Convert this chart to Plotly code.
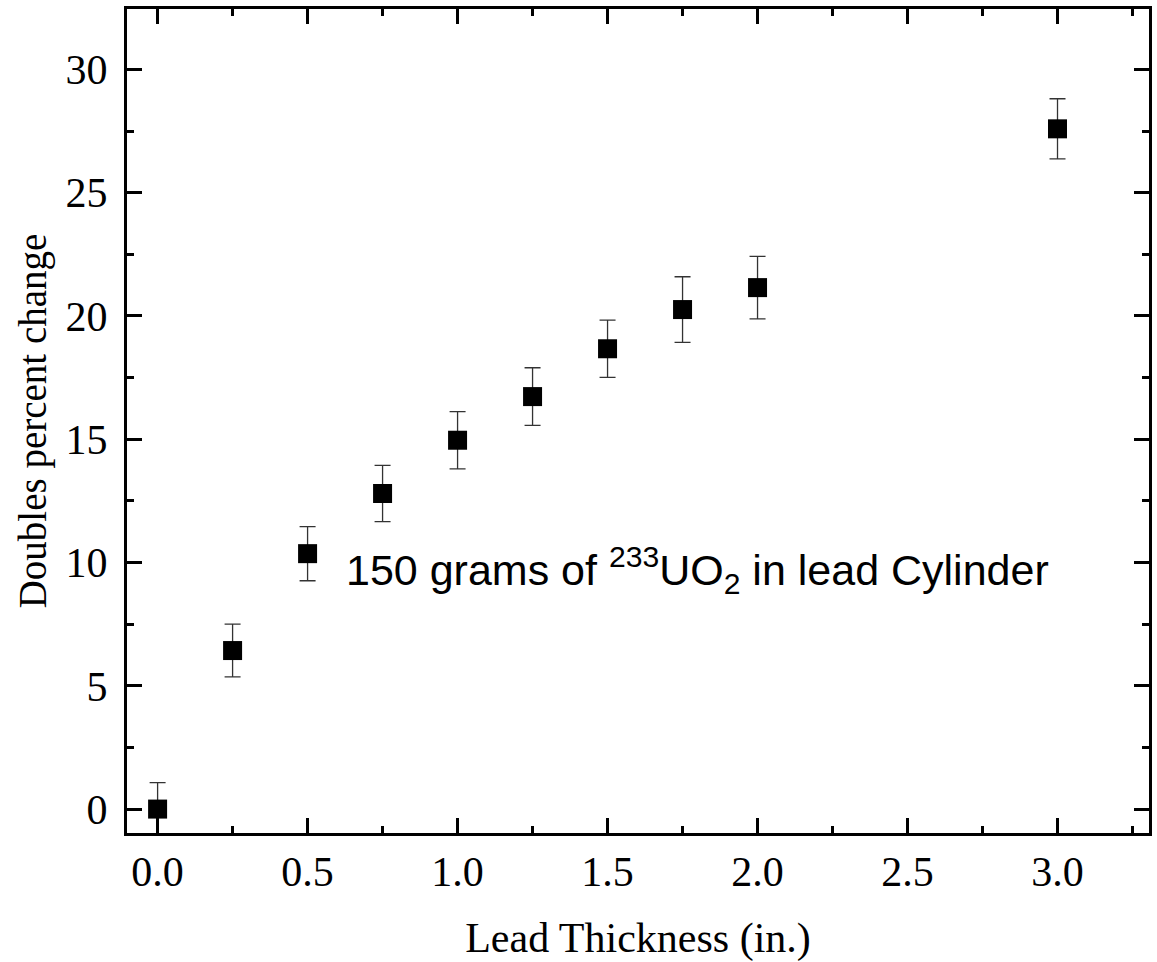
import plotly.graph_objects as go

thickness = [0.0, 0.25, 0.5, 0.75, 1.0, 1.25, 1.5, 1.75, 2.0, 3.0]
pct_change = [0.0, 6.43, 10.36, 12.80, 14.96, 16.73, 18.67, 20.26, 21.15, 27.59]
err = [1.07, 1.07, 1.10, 1.14, 1.16, 1.17, 1.16, 1.33, 1.27, 1.22]
x_ticks = [0.0, 0.5, 1.0, 1.5, 2.0, 2.5, 3.0]
x_ticklabels = ["0.0", "0.5", "1.0", "1.5", "2.0", "2.5", "3.0"]
y_ticks = [0, 5, 10, 15, 20, 25, 30]
y_ticklabels = ["0", "5", "10", "15", "20", "25", "30"]

fig = go.Figure()
fig.add_trace(go.Scatter(
    x=thickness, y=pct_change, mode="markers",
    marker=dict(symbol="square", size=19, color="black", line=dict(width=0)),
    error_y=dict(type="data", array=err, visible=True, color="#333333",
                 thickness=1.3, width=8),
    showlegend=False,
))

fig.add_annotation(
    x=0.62, y=9.7, xref="x", yref="y", xanchor="left", yanchor="middle",
    text="150 grams of <sup>233</sup>UO<sub>2</sub> in lead Cylinder",
    showarrow=False,
    font=dict(family="Liberation Sans, Arial", size=43, color="black"),
)

axis_common = dict(
    showline=True, linewidth=3, linecolor="black", mirror="allticks",
    ticks="inside", ticklen=15, tickwidth=3, tickcolor="black",
    showgrid=False, zeroline=False,
    tickfont=dict(family="Liberation Serif, Times New Roman", size=42, color="black"),
)

fig.update_xaxes(
    **axis_common,
    range=[-0.102, 3.305],
    tickvals=x_ticks, ticktext=x_ticklabels,
    minor=dict(dtick=0.25, ticks="inside", ticklen=7, tickwidth=3, tickcolor="black", showgrid=False),
    title_text="Lead Thickness (in.)",
    title_font=dict(family="Liberation Serif, Times New Roman", size=42, color="black"),
    title_standoff=36,
)
fig.update_yaxes(
    **axis_common,
    range=[-0.97, 32.45],
    tickvals=y_ticks, ticktext=y_ticklabels,
    ticklabelstandoff=8,
    minor=dict(dtick=2.5, ticks="inside", ticklen=7, tickwidth=3, tickcolor="black", showgrid=False),
    title_text="Doubles percent change",
    title_font=dict(family="Liberation Serif, Times New Roman", size=39, color="black"),
    title_standoff=7,
)

fig.update_layout(
    width=1157, height=962,
    margin=dict(l=127, r=8, t=9, b=129, autoexpand=False),
    paper_bgcolor="white", plot_bgcolor="white",
)

fig.write_html("out.html")
